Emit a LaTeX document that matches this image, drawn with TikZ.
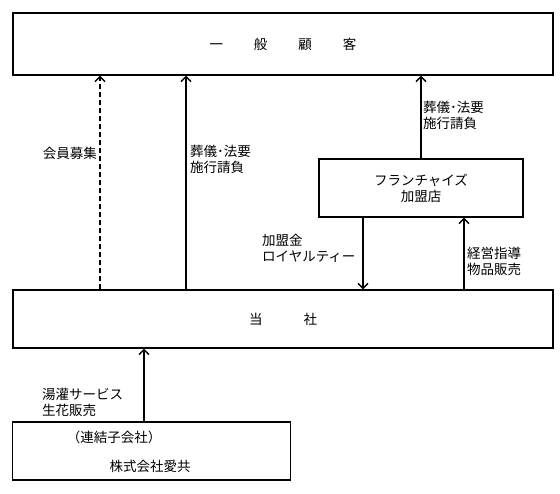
\documentclass[tikz,border=0pt]{standalone}
\usepackage{fontspec}
\setmainfont{Noto Sans CJK JP}
\usetikzlibrary{arrows.meta}

\tikzset{
  box/.style={draw, line width=1.2pt, rectangle, inner sep=0pt},
  lbl/.style={inner sep=0pt, align=left},
  flow/.style={line width=1.6pt, -{Straight Barb[length=5pt,width=10pt,line width=1.4pt]}},
}

\begin{document}
\begin{tikzpicture}[x=1pt, y=-1pt, line cap=butt, font=\fontsize{13.5}{16}\selectfont]
                \useasboundingbox (0,0) rectangle (560,494);

                % boxes
                \node[box, minimum width=540pt, minimum height=62pt] (cust) at (283,44)
                    {一\hspace{31pt}般\hspace{31pt}顧\hspace{31pt}客};
                \node[box, minimum width=540pt, minimum height=58pt] (comp) at (283,319)
                    {当\hspace{41pt}社};
                \node[box, minimum width=204pt, minimum height=58pt, align=center] (fc) at (421,188)
                    {フランチャイズ\\加盟店};
                \node[box, minimum width=278pt, minimum height=58pt] (sub) at (151.5,451) {};
                \node[lbl] (subA) at (114,437) {（連結子会社）};
                \node[lbl] (subB) at (150,466) {株式会社愛共};

                % arrow positions
                \coordinate (xa) at (100,0);
                \coordinate (xb) at (186,0);
                \coordinate (xc) at (421,0);
                \coordinate (xd) at (363,0);
                \coordinate (xe) at (464,0);
                \coordinate (xf) at (144,0);

                \draw[flow, dash pattern=on 5pt off 3pt] (comp.north -| xa) -- (cust.south -| xa);
                \draw[flow] (comp.north -| xb) -- (cust.south -| xb);
                \draw[flow] (fc.north -| xc) -- (cust.south -| xc);
                \draw[flow] (fc.south -| xd) -- (comp.north -| xd);
                \draw[flow] (comp.north -| xe) -- (fc.south -| xe);
                \draw[flow] (sub.north -| xf) -- (comp.south -| xf);

                % labels
                \node[lbl, anchor=east] (l1) at (97,153) {会員募集};
                \node[lbl, anchor=west] (l2) at (190,159) {葬儀･法要\\施行請負};
                \node[lbl, anchor=west] (l3) at (423,115.5) {葬儀･法要\\施行請負};
                \node[lbl, anchor=west] (l4) at (262,248.5) {加盟金\\ロイヤルティー};
                \node[lbl, anchor=west] (l5) at (467,261.5) {経営指導\\物品販売};
                \node[lbl, anchor=west] (l6) at (42,402) {湯灌サービス\\生花販売};

            \end{tikzpicture}
\end{document}
